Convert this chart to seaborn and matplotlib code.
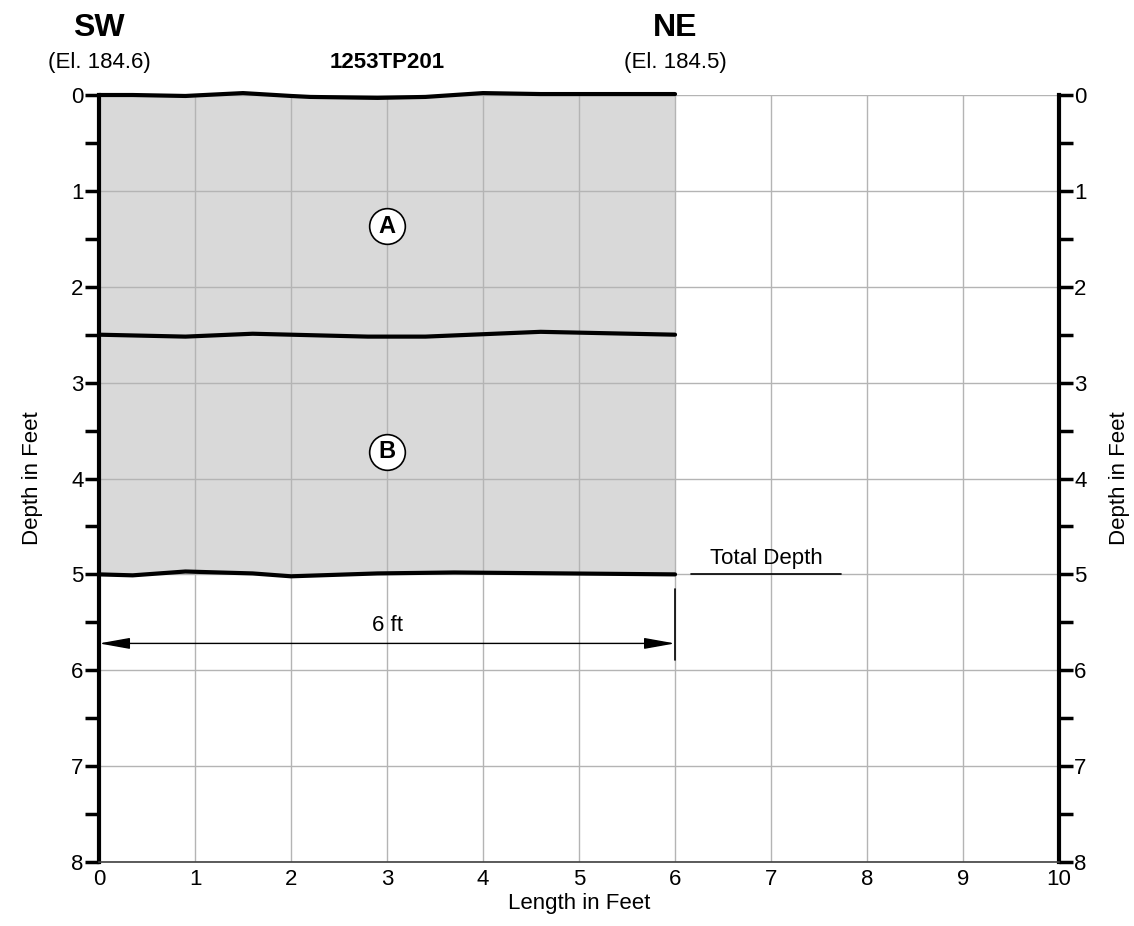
import numpy as np
import pandas as pd
import seaborn as sns
import matplotlib.pyplot as plt
from matplotlib.ticker import MultipleLocator

# границы слоёв (длина, глубина в футах)
top_x = [0, 0.35, 0.9, 1.5, 2.0, 2.2, 2.9, 3.4, 4.0, 4.6, 5.3, 6.0]
top_y = [0.0, 0.0, 0.01, -0.02, 0.01, 0.02, 0.03, 0.02, -0.02, -0.01, -0.01, -0.01]
mid_x = [0, 0.9, 1.6, 2.8, 3.4, 4.6, 6.0]
mid_y = [2.50, 2.52, 2.49, 2.52, 2.52, 2.47, 2.50]
bot_x = [0, 0.35, 0.9, 1.6, 2.0, 2.9, 3.7, 6.0]
bot_y = [5.0, 5.01, 4.97, 4.99, 5.02, 4.99, 4.98, 5.0]

layer_names = ["A", "B"]
layer_x = [3, 3]
layer_y = [1.37, 3.72]

pit_name = "1253TP201"
ends = ["SW", "NE"]
end_x = [0, 6]
elevations = ["(El. 184.6)", "(El. 184.5)"]
pit_length = 6
total_depth = 5.0

sns.set_style("white", {"text.color": "black", "axes.labelcolor": "black",
                        "xtick.color": "black", "ytick.color": "black"})
plt.rcParams['font.family'] = ['Liberation Sans', 'DejaVu Sans']

fig = plt.figure(figsize=(11.34, 9.26), dpi=100)
ax = fig.add_axes([0.0873, 0.0691, 0.8466, 0.8283])

# заливка шурфа
fx = np.linspace(0, pit_length, 200)
ax.fill_between(fx, np.interp(fx, top_x, top_y), np.interp(fx, bot_x, bot_y),
                color="#d9d9d9", zorder=0.1, linewidth=0, clip_on=False)

lines = pd.concat([
    pd.DataFrame({"x": top_x, "y": top_y, "b": "top"}),
    pd.DataFrame({"x": mid_x, "y": mid_y, "b": "mid"}),
    pd.DataFrame({"x": bot_x, "y": bot_y, "b": "bot"}),
])
sns.lineplot(data=lines, x="x", y="y", units="b", estimator=None, sort=False,
             color="black", linewidth=3, ax=ax, zorder=3, clip_on=False)

# метки слоёв в кружках
ax.scatter(layer_x, layer_y, s=660, facecolor="white", edgecolor="black",
           linewidth=1.2, zorder=4)
for name, x, y in zip(layer_names, layer_x, layer_y):
    ax.text(x, y, name, ha="center", va="center", fontsize=17, fontweight="bold", zorder=5)

# размерная линия
ax.annotate("", xy=(0, 5.72), xytext=(pit_length, 5.72),
            arrowprops=dict(arrowstyle="<|-|>,head_length=1.9,head_width=0.34",
                            mutation_scale=10, color="black", lw=1,
                            shrinkA=0, shrinkB=0), zorder=4)
ax.plot([pit_length, pit_length], [5.15, 5.89], color="black", lw=1.2, zorder=4)
ax.text(3, 5.53, f"{pit_length} ft", ha="center", va="center", fontsize=16)

# Total Depth
ax.plot([6.17, 7.73], [total_depth, total_depth], color="black", lw=1.2, zorder=4)
ax.text(6.95, total_depth - 0.06, "Total Depth", ha="center", va="bottom", fontsize=16)

# подписи сверху
for name, x, el in zip(ends, end_x, elevations):
    ax.text(x, -0.7, name, ha="center", va="center", fontsize=23, fontweight="bold")
    ax.text(x, -0.34, el, ha="center", va="center", fontsize=16)
ax.text(3, -0.34, pit_name, ha="center", va="center", fontsize=16, fontweight="bold")

ax.set_xlim(0, 10)
ax.set_ylim(8, 0)
ax.xaxis.set_major_locator(MultipleLocator(1))
ax.yaxis.set_major_locator(MultipleLocator(1))
ax.yaxis.set_minor_locator(MultipleLocator(0.5))
ax.grid(True, which="major", color="#b4b4b4", linewidth=1)
ax.set_axisbelow(True)

for side in ["left", "right"]:
    ax.spines[side].set_linewidth(3)
    ax.spines[side].set_color("black")
ax.spines["top"].set_visible(False)
ax.spines["bottom"].set_color("#404040")
ax.spines["bottom"].set_linewidth(1.2)

ax.set_xlabel("Length in Feet", fontsize=16, labelpad=2)
ax.set_ylabel("Depth in Feet", fontsize=16, labelpad=20)
ax2 = ax.twinx()
ax2.set_ylim(8, 0)
ax2.set_yticks([])
for s in ax2.spines.values():
    s.set_visible(False)
ax2.set_ylabel("Depth in Feet", fontsize=16, labelpad=36)

# twinx переключает тики на левую сторону, поэтому настраиваем после него
ax.tick_params(axis="y", which="both", left=True, right=True, labelleft=True,
               labelright=True, direction="out", length=10, width=2.5,
               color="black", labelsize=16, pad=1)
ax.tick_params(axis="x", length=0, labelsize=16, pad=5)

fig.savefig("out.png", dpi=100)
